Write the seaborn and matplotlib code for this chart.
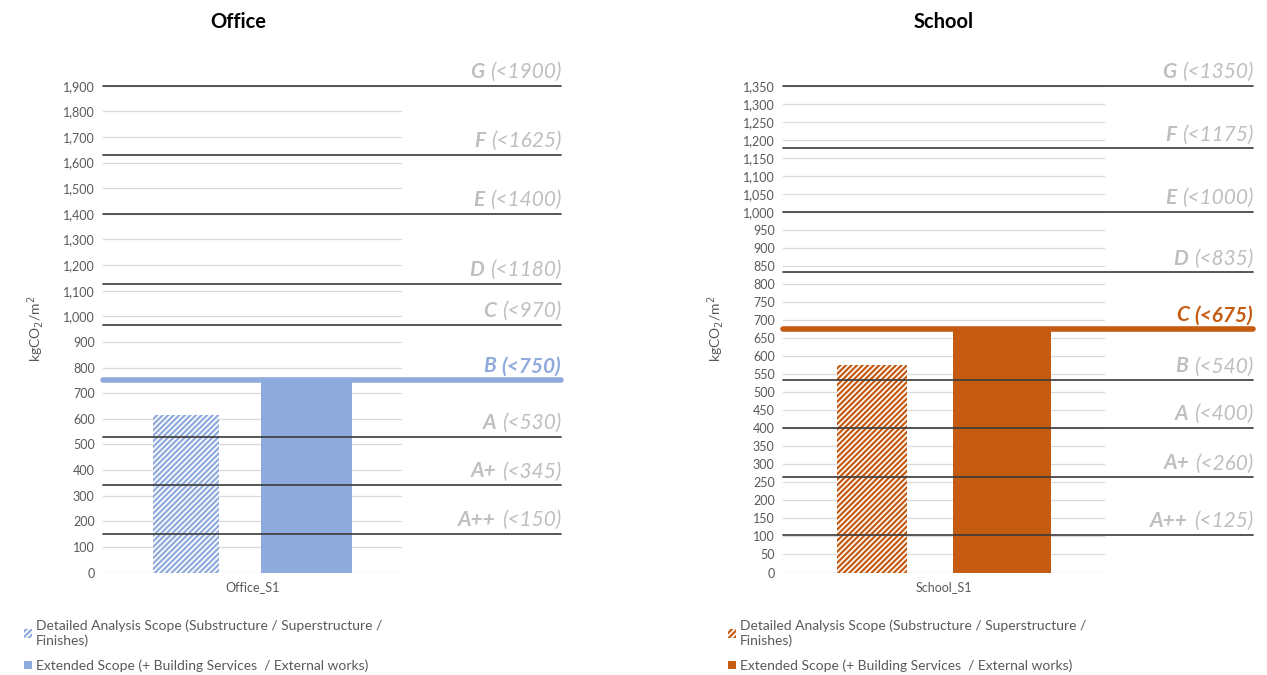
import pandas as pd
import seaborn as sns
import matplotlib.pyplot as plt
from matplotlib.ticker import FuncFormatter, MultipleLocator
from matplotlib.patches import Patch

# Veriler
scopes = ['Detailed Analysis Scope (Substructure / Superstructure /\nFinishes)',
          'Extended Scope (+ Building Services  / External works)']
office_cat = ['Office_S1']
office_values = [614, 748]
school_cat = ['School_S1']
school_values = [575, 672]

bands = ['A++', 'A+', 'A', 'B', 'C', 'D', 'E', 'F', 'G']
office_limits = [150, 345, 530, 750, 970, 1180, 1400, 1625, 1900]
office_lines = [150, 340, 530, 750, 966, 1125, 1400, 1630, 1900]  # çizgilerin görünen yeri
school_limits = [125, 260, 400, 540, 675, 835, 1000, 1175, 1350]
school_lines = [104, 264, 400, 533, 675, 832, 1000, 1176, 1350]

office_color = '#8FAADC'
school_color = '#C55A11'

sns.set_style('white')
plt.rcParams['font.family'] = ['Lato', 'DejaVu Sans']
plt.rcParams['hatch.linewidth'] = 1.6

fig = plt.figure(figsize=(12.67, 6.75), dpi=100)
W, H = 1267, 675


def panel(left, right, line_end, cat, values, limits, lines, hi, color,
          ymax, step, title, title_x, legend_x):
    ax = fig.add_axes([left / W, 1 - 572.5 / H, (right - left) / W, 486.8 / H])
    df = pd.DataFrame({'cat': cat * 2, 'scope': scopes, 'value': values})
    sns.barplot(data=df, x='cat', y='value', hue='scope', ax=ax, saturation=1,
                palette=[color, color], width=0.72, gap=0.16, legend=False)
    # ilk çubuk taralı ve biraz daha dar
    p = ax.patches[0]
    p.set_width(p.get_width() * 0.72)
    p.set_facecolor('white')
    p.set_edgecolor(color)
    p.set_linewidth(0)
    p.set_hatch('//////')
    ax.patches[1].set_linewidth(0)

    ax.set_xlim(-0.5, 0.5)
    ax.set_ylim(0, ymax)
    ax.yaxis.set_major_locator(MultipleLocator(step))
    ax.yaxis.set_major_formatter(FuncFormatter(lambda v, _: f'{v:,.0f}'))
    ax.grid(axis='y', color='#D9D9D9', lw=0.9)
    ax.set_axisbelow(True)
    for s in ax.spines.values():
        s.set_visible(False)
    ax.tick_params(axis='both', length=0, labelsize=9, labelcolor='#595959', pad=6)
    ax.set_xlabel('')
    ax.set_ylabel('kgCO$_2$/m$^2$', fontsize=10, color='#595959', labelpad=12)

    xend = (line_end - left) / (right - left)
    for b, lim, y in zip(bands, limits, lines):
        if b == hi:
            ax.axhline(y, 0, xend, color=color, lw=4, clip_on=False, zorder=4)
            tcol, pw = color, 'bold'
        else:
            ax.axhline(y, 0, xend, color='#3A3A3A', lw=1.2, clip_on=False, zorder=4)
            tcol, pw = '#BFBFBF', 'normal'
        t = ax.text(xend, y + ymax * 0.008, f'(<{lim})', transform=ax.get_yaxis_transform(),
                    ha='right', va='bottom', fontsize=15, style='italic',
                    color=tcol, fontweight=pw)
        ax.annotate(b, xy=(0, 0), xycoords=t, xytext=(-4, 0), textcoords='offset points',
                    ha='right', va='bottom', fontsize=15, style='italic',
                    fontweight='bold', color=tcol)

    fig.text(title_x / W, 1 - 22 / H, title, ha='center', va='center',
             fontsize=14.5, fontweight='bold', color='black')

    handles = [Patch(facecolor='white', edgecolor=color, hatch='//////', lw=0),
               Patch(facecolor=color, lw=0)]
    fig.legend(handles, scopes, loc='upper left',
               bbox_to_anchor=(legend_x / W, 1 - 614 / H), frameon=False,
               fontsize=10, labelcolor='#595959', handlelength=0.6, handleheight=0.6,
               handletextpad=0.3, labelspacing=0.9, borderaxespad=0)
    return ax


panel(103, 402, 561, office_cat, office_values, office_limits, office_lines, 'B',
      office_color, 1900, 100, 'Office', 238, 18)
panel(783, 1105, 1253, school_cat, school_values, school_limits, school_lines, 'C',
      school_color, 1350, 50, 'School', 944, 722)

fig.savefig('out.png', dpi=100)
